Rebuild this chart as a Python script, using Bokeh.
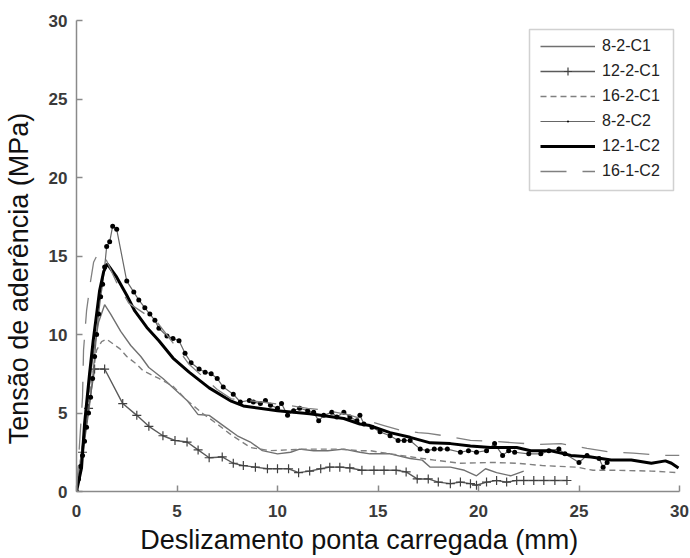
from bokeh.plotting import figure
from bokeh.models import Range1d, Legend, LegendItem, FixedTicker, BoxAnnotation
from bokeh.embed import file_html
from bokeh.resources import INLINE

# Bond stress (MPa) versus loaded-end slip (mm), six pull-out specimens
x_8_2_c1 = [0, 0.4, 0.8, 1.1, 1.4, 1.7, 2.2, 2.7, 3.2, 3.6, 4.3, 4.9, 5.5, 6.05, 6.6, 7.3, 8.0, 8.65, 9.25, 10.0,
            10.65, 11.1, 11.8, 12.5, 13.3, 14.1, 14.6, 15.6, 16.6, 17.2, 17.6, 18.6, 19.3, 19.9, 20.35, 20.9, 21.6, 22.25]
y_8_2_c1 = [0, 4.0, 8.5, 10.8, 11.9, 11.3, 10.2, 9.3, 8.6, 7.9, 7.2, 6.5, 5.8, 4.9, 4.85, 4.2, 3.55, 3.15, 2.6, 2.4,
            2.5, 2.7, 2.6, 2.6, 2.7, 2.5, 2.4, 2.4, 2.1, 2.0, 1.55, 1.55, 1.35, 1.0, 1.45, 1.2, 1.0, 1.3]

x_12_2_c1 = [0, 0.3, 0.6, 0.9, 1.4, 2.3, 3.0, 3.6, 4.3, 4.9, 5.5, 6.05, 6.6, 7.25, 7.8, 8.3, 8.9, 9.5, 10.0, 10.55,
             11.05, 11.6, 12.15, 12.6, 13.1, 13.6, 14.2, 14.8, 15.3, 15.9, 16.4, 16.95, 17.5, 18.0, 18.6, 19.1, 19.6,
             19.9, 20.4, 20.9, 21.4, 21.9, 22.25, 22.75, 23.25, 23.8, 24.4]
y_12_2_c1 = [0, 2.5, 5.3, 7.8, 7.8, 5.6, 4.85, 4.15, 3.55, 3.25, 3.15, 2.65, 2.15, 2.2, 1.8, 1.65, 1.55, 1.45, 1.45, 1.45,
             1.2, 1.3, 1.45, 1.55, 1.55, 1.5, 1.35, 1.35, 1.35, 1.35, 1.25, 0.8, 0.8, 0.6, 0.5, 0.6, 0.5,
             0.4, 0.6, 0.7, 0.6, 0.7, 0.7, 0.7, 0.7, 0.7, 0.7]

x_16_2_c1 = [0, 0.5, 1.0, 1.25, 1.5, 2.15, 2.5, 3.0, 3.3, 4.1, 4.8, 5.5, 6.3, 7.0, 7.6, 8.65, 9.65, 11.3, 13.0, 14.1,
             14.6, 16.1, 17.8, 19.1, 20.7, 21.9, 23.2, 24.9, 25.7, 26.9, 28.6, 29.95]
y_16_2_c1 = [0, 5.0, 9.0, 9.55, 9.7, 9.1, 8.6, 8.1, 7.7, 7.2, 6.7, 5.8, 4.95, 4.3, 3.7, 2.8, 2.6, 2.7, 2.7, 2.6,
             2.6, 2.3, 2.0, 1.8, 1.85, 1.8, 1.65, 1.55, 1.35, 1.35, 1.3, 1.2]

x_8_2_c2 = [0, 0.1, 0.2, 0.3, 0.4, 0.5, 0.6, 0.7, 0.8, 0.9, 1.0, 1.1, 1.2, 1.3, 1.4, 1.5, 1.65, 1.8, 2.0, 2.5,
            2.85, 3.1, 3.4, 3.65, 3.9, 4.1, 4.5, 4.8, 5.1, 5.4, 5.7, 6.1, 6.4, 6.7, 7.0, 7.3, 7.8, 8.15, 8.6, 8.8,
            9.15, 9.4, 9.65, 10.0, 10.2, 10.5, 10.8, 11.1, 11.5, 11.8, 12.05, 12.3, 12.7, 12.95, 13.3, 13.6, 13.95,
            14.1, 14.3, 14.7, 15.1, 15.6, 16.0, 16.3, 16.6, 17.1, 17.45, 17.8, 18.1, 18.45, 19.1, 19.5, 19.9, 20.4,
            20.8, 21.2, 21.5, 21.8, 22.5, 23.1, 23.5, 24.0, 24.3, 25.0, 25.4, 26.0, 26.2, 26.4]
y_8_2_c2 = [0, 0.8, 1.6, 2.3, 3.2, 4.1, 5.0, 6.0, 7.2, 8.6, 10.0, 11.3, 12.4, 13.2, 14.3, 15.6, 15.9, 16.9, 16.7, 13.4,
            12.7, 12.2, 11.7, 11.3, 10.9, 10.4, 9.9, 9.75, 9.6, 8.8, 8.2, 7.8, 7.6, 7.5, 7.2, 6.65, 6.2, 5.7, 5.8, 5.7,
            5.6, 5.8, 5.5, 5.3, 5.6, 4.85, 5.15, 5.3, 5.15, 5.05, 4.5, 4.85, 5.05, 4.75, 5.05, 4.75, 4.5,
            4.85, 4.3, 4.1, 3.8, 3.55, 3.25, 3.25, 3.25, 2.7, 2.6, 2.7, 2.7, 2.7, 2.5, 2.6, 2.5, 2.6,
            3.05, 2.3, 2.6, 2.5, 2.4, 2.4, 2.6, 2.7, 2.4, 1.85, 2.3, 2.1, 1.55, 1.85]

x_12_1_c2 = [0, 0.25, 0.4, 0.65, 0.83, 1.0, 1.15, 1.35, 1.53, 2.0, 2.5, 2.9, 3.5, 4.1, 4.8, 5.6, 6.6, 7.7, 8.3, 10.0,
             11.6, 13.3, 14.1, 14.6, 15.6, 16.6, 17.6, 18.6, 19.6, 20.6, 21.9, 22.6, 23.6, 24.6, 25.6, 26.6, 27.6,
             28.6, 29.3, 29.6, 29.95]
y_12_1_c2 = [0, 1.5, 4.3, 7.5, 9.6, 11.3, 12.8, 14.0, 14.5, 13.65, 12.5, 11.5, 10.45, 9.6, 8.5, 7.6, 6.6, 5.75, 5.45, 5.15,
             4.95, 4.65, 4.3, 4.2, 3.75, 3.45, 3.1, 3.05, 2.9, 2.8, 2.8, 2.6, 2.6, 2.3, 2.2, 2.0, 2.0,
             1.8, 1.95, 1.8, 1.5]

x_16_1_c2 = [0, 0.15, 0.3, 0.35, 0.5, 0.7, 0.85, 1.1, 1.5, 2.0, 2.6, 4.0, 5.2, 5.6, 7.0, 7.7, 9.2, 10.5, 11.5, 12.3,
             13.5, 14.5, 15.3, 16.1, 17.0, 17.5, 18.3, 19.6, 20.7, 21.8, 22.9, 24.1, 25.4, 26.6, 27.7, 29.0, 30.0]
y_16_1_c2 = [0, 3.0, 6.0, 9.0, 11.5, 13.4, 14.6, 15.25, 14.7, 13.3, 12.0, 10.8, 8.8, 8.1, 6.5, 5.9, 5.7, 5.5, 5.3, 5.2,
             4.9, 4.5, 4.2, 3.9, 3.75, 3.7, 3.55, 3.25, 3.2, 3.1, 3.0, 3.05, 2.75, 2.5, 2.45, 2.3, 2.3]

ticks = [0, 5, 10, 15, 20, 25, 30]
x_title = "Deslizamento ponta carregada (mm)"
y_title = "Tensão de aderência (MPa)"
FONT = "Liberation Sans"
GREY = "#707070"
NBSP = "\u00a0"

p = figure(width=690, height=558, output_backend="svg", toolbar_location=None,
           x_range=Range1d(0, 30), y_range=Range1d(0, 30),
           min_border_left=76, min_border_right=11, min_border_top=20, min_border_bottom=67)
p.outline_line_color = None
p.grid.visible = False
p.background_fill_color = "white"
p.border_fill_color = "white"

for ax in (p.xaxis[0], p.yaxis[0]):
    ax.ticker = FixedTicker(ticks=ticks)
    ax.axis_line_color = "#8a8a8a"
    ax.axis_line_width = 1.5
    ax.major_tick_line_color = "#8a8a8a"
    ax.major_tick_line_width = 1.5
    ax.major_tick_in = 6
    ax.major_tick_out = 0
    ax.minor_tick_line_color = None
    ax.major_label_text_font = FONT
    ax.major_label_text_font_size = "17px"
    ax.major_label_text_color = "#3a3a3a"
    ax.major_label_text_font_style = "bold"
    ax.axis_label_text_font = FONT
    ax.axis_label_text_font_size = "27px"
    ax.axis_label_text_font_style = "normal"
    ax.axis_label_text_color = "#111111"
p.xaxis.major_label_standoff = 13
p.yaxis.major_label_standoff = 9

# The titles sit a little off-centre: trailing no-break spaces push them along the axis
p.xaxis.axis_label = x_title + NBSP * 5
p.yaxis.axis_label = y_title + NBSP * 6
p.xaxis.axis_label_standoff = 5
p.yaxis.axis_label_standoff = 12

r1 = p.line(x_8_2_c1, y_8_2_c1, line_color=GREY, line_width=1.4)

r2 = p.line(x_12_2_c1, y_12_2_c1, line_color="#5a5a5a", line_width=1.4)
r2m = p.scatter(x_12_2_c1, y_12_2_c1, marker="cross", size=9, line_color="#404040", line_width=1.2)

r3 = p.line(x_16_2_c1, y_16_2_c1, line_color="#808080", line_width=1.4, line_dash="6 4")

r4 = p.line(x_8_2_c2, y_8_2_c2, line_color="#666666", line_width=1.2)
r4m = p.scatter(x_8_2_c2, y_8_2_c2, marker="dot", size=20, line_color="black", fill_color="black")

r5 = p.line(x_12_1_c2, y_12_1_c2, line_color="black", line_width=3)

r6 = p.line(x_16_1_c2, y_16_1_c2, line_color="#808080", line_width=1.3, line_dash="26 16")

# Legend frame drawn as its own box; the legend itself is borderless on top of it
p.add_layout(BoxAnnotation(left=453, right=597, bottom=301, top=462,
                           left_units="screen", right_units="screen",
                           bottom_units="screen", top_units="screen",
                           fill_color="white", fill_alpha=1,
                           line_color="#666666", line_width=1.5))

legend = Legend(items=[
    LegendItem(label="8-2-C1", renderers=[r1]),
    LegendItem(label="12-2-C1", renderers=[r2, r2m]),
    LegendItem(label="16-2-C1", renderers=[r3]),
    LegendItem(label="8-2-C2", renderers=[r4, r4m]),
    LegendItem(label="12-1-C2", renderers=[r5]),
    LegendItem(label="16-1-C2", renderers=[r6]),
], location=(464, 310))
legend.label_text_font = FONT
legend.label_text_font_size = "16px"
legend.label_text_color = "#222222"
legend.glyph_width = 55
legend.glyph_height = 20
legend.label_height = 20
legend.label_standoff = 7
legend.spacing = 5
legend.padding = 7
legend.margin = 0
legend.border_line_color = None
legend.background_fill_alpha = 0
p.add_layout(legend)

open("out.html", "w").write(file_html(p, INLINE))
